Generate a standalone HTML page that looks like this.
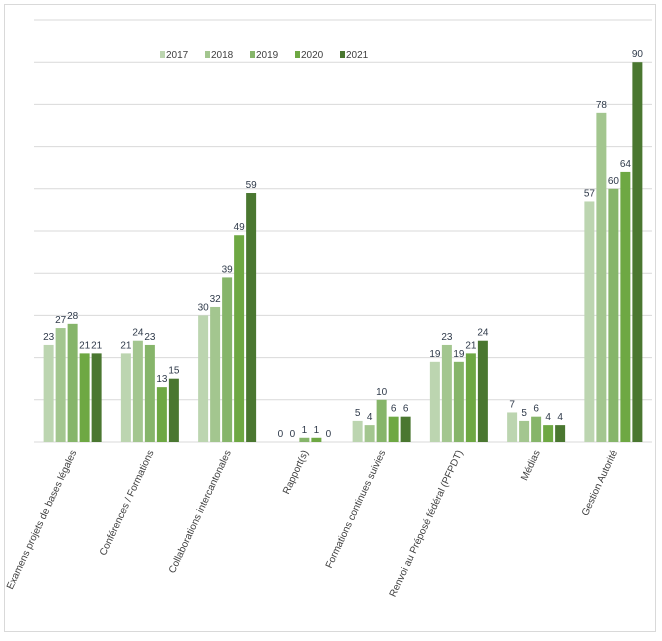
<!DOCTYPE html>
<html><head><meta charset="utf-8"><style>
body{margin:0;background:#fff;font-family:"Liberation Sans Narrow","Liberation Sans",sans-serif;}
</style></head><body>
<svg id="chart" width="662" height="636" xmlns="http://www.w3.org/2000/svg">
<rect x="4.5" y="4.5" width="651" height="627" fill="#fff" stroke="#d9d9d9"/>
<g id="grid"></g><g id="bars"></g><g id="labels"></g><g id="legend"></g>
</svg>
<script>
const categories=["Examens projets de bases légales","Conférences / Formations","Collaborations intercantonales","Rapport(s)","Formations continues suivies","Renvoi au Préposé fédéral (PFPDT)","Médias","Gestion Autorité"];
const years=["2017","2018","2019","2020","2021"];
const s2017=[23,21,30,0,5,19,7,57];
const s2018=[27,24,32,0,4,23,5,78];
const s2019=[28,23,39,1,10,19,6,60];
const s2020=[21,13,49,1,6,21,4,64];
const s2021=[21,15,59,0,6,24,4,90];
const series=[s2017,s2018,s2019,s2020,s2021];
const colors=["#bcd5b0","#a3c68f","#86b56a","#6ea843","#4a7730"];
const NS="http://www.w3.org/2000/svg";
const x0=34,x1=652,yBase=442,yTop=20,vMax=100;
const y=v=>yBase-(v/vMax)*(yBase-yTop);
const gw=(x1-x0)/categories.length;
const bw=10,gap=2;
function mk(t,a,p){const e=document.createElementNS(NS,t);for(const k in a)e.setAttribute(k,a[k]);p.appendChild(e);return e;}
const grid=document.getElementById('grid');
for(let v=0;v<=vMax;v+=10){const l=mk('line',{x1:x0,x2:x1,y1:y(v),y2:y(v),stroke:'#d9d9d9','stroke-width':1},grid);

}
const bars=document.getElementById('bars');
categories.forEach((c,i)=>{
 const cx=x0+gw*i+gw/2;
 const start=cx-(5*bw+4*gap)/2;
 series.forEach((s,j)=>{
  const bx=start+j*(bw+gap);
  const r=mk('rect',{x:bx,y:y(s[i]),width:bw,height:yBase-y(s[i]),fill:colors[j]},bars);
  
  
  const t=mk('text',{x:bx+bw/2,y:y(s[i])-5,'text-anchor':'middle','font-size':10,fill:'#2f3a4a'},bars);
  t.textContent=s[i];
  
  
 });
 const lab=mk('text',{transform:`translate(${cx+4},${yBase+10}) rotate(-65)`,'text-anchor':'end','font-size':10,fill:'#404040'},document.getElementById('labels'));
 lab.textContent=c;
 
 
});
const lg=document.getElementById('legend');
years.forEach((yr,j)=>{
 const lx=160+j*45;
 const r=mk('rect',{x:lx,y:51,width:5,height:7,fill:colors[j]},lg);
 
 
 const t=mk('text',{x:lx+6,y:58,'font-size':10,fill:'#404040'},lg);
 t.textContent=yr;
 
 
});
</script>
</body></html>
